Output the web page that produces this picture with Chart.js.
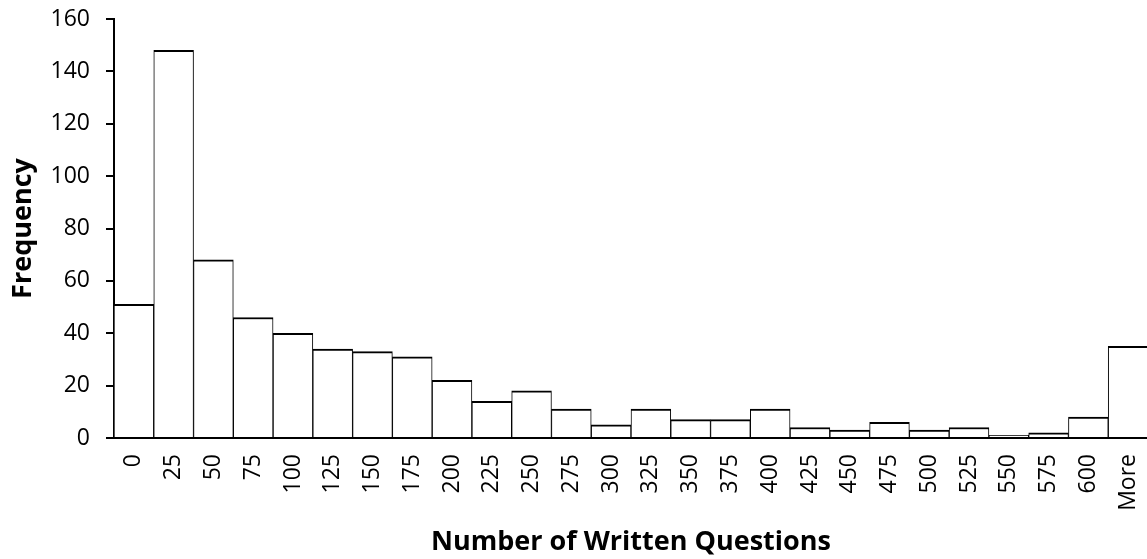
<!DOCTYPE html>
<html>
<head>
<meta charset="utf-8">
<title>Number of Written Questions – Frequency</title>
<script src="https://cdn.jsdelivr.net/npm/chart.js@4/dist/chart.umd.min.js"></script>
<style>
  html, body { margin: 0; padding: 0; background: #fff; overflow: hidden; }
  #wrap { position: relative; width: 1148px; height: 559px; }
</style>
</head>
<body>
<div id="wrap"><canvas id="hist"></canvas></div>
<script>
// Histogram bins (upper edge of each bin) and counts
const binLabels = ['0', '25', '50', '75', '100', '125', '150', '175', '200', '225', '250', '275', '300',
                   '325', '350', '375', '400', '425', '450', '475', '500', '525', '550', '575', '600', 'More'];
const frequencies = [51, 148, 68, 46, 40, 34, 33, 31, 22, 14, 18, 11, 5,
                     11, 7, 7, 11, 4, 3, 6, 3, 4, 1, 2, 8, 35];
const yMin = 0;
const yMax = 160;
const yStep = 20;

const xTitle = 'Number of Written Questions';
const yTitle = 'Frequency';

const FONT = "'Open Sans', Lato, 'DejaVu Sans', sans-serif";

new Chart(document.getElementById('hist'), {
  type: 'bar',
  data: {
    labels: binLabels,
    datasets: [{
      data: frequencies,
      backgroundColor: '#ffffff',
      borderColor: '#000000',
      borderWidth: { top: 2, left: 1, right: 1, bottom: 0 },
      borderSkipped: false,
      barPercentage: 1.0,
      categoryPercentage: 1.0
    }]
  },
  options: {
    responsive: true,
    maintainAspectRatio: false,
    animation: false,
    layout: { padding: { top: 19, right: 0, bottom: 0, left: 0 } },
    plugins: {
      legend: { display: false },
      tooltip: { enabled: false }
    },
    scales: {
      x: {
        grid: { display: false, drawTicks: false },
        border: { display: true, color: '#000000', width: 2 },
        ticks: {
          color: '#000000',
          font: { family: FONT, size: 23 },
          minRotation: 90,
          maxRotation: 90,
          autoSkip: false,
          padding: 16
        },
        title: {
          display: true,
          text: xTitle,
          color: '#000000',
          font: { family: FONT, size: 27, weight: 'bold' },
          padding: { top: 0, bottom: 0 }
        },
        afterFit(scale) {
          scale.height = 121;
          scale.paddingLeft = 0;
          scale.paddingRight = 0;
        }
      },
      y: {
        min: yMin,
        max: yMax,
        ticks: {
          stepSize: yStep,
          color: '#000000',
          font: { family: FONT, size: 23 },
          padding: 16
        },
        grid: {
          drawOnChartArea: false,
          drawTicks: true,
          tickLength: 8,
          color: '#000000',
          lineWidth: 2
        },
        border: { display: true, color: '#000000', width: 2 },
        title: {
          display: true,
          text: yTitle,
          color: '#000000',
          font: { family: FONT, size: 27, weight: 'bold' },
          padding: { top: 7, bottom: 0 }
        },
        afterFit(scale) {
          scale.width = 114;
          scale.paddingTop = 0;
          scale.paddingBottom = 0;
        }
      }
    }
  }
});
</script>
</body>
</html>
